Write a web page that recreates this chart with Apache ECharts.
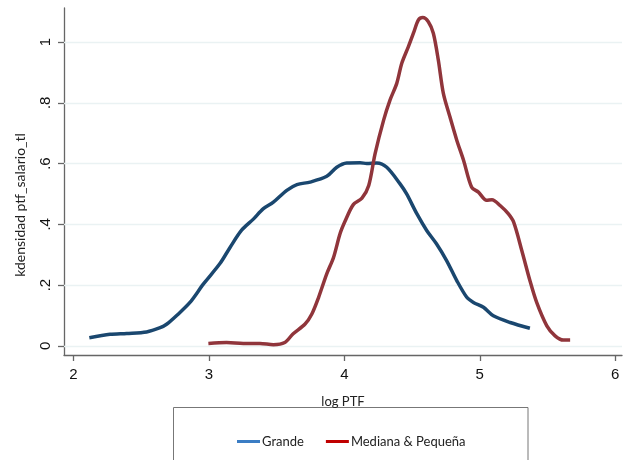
<!DOCTYPE html>
<html>
<head>
<meta charset="utf-8">
<script src="https://cdn.jsdelivr.net/npm/echarts@6/dist/echarts.min.js"></script>
<style>
html,body{margin:0;padding:0;background:#fff;}
#chart{width:623px;height:460px;}
</style>
</head>
<body>
<div id="chart"></div>
<script>
const xTicks = [2, 3, 4, 5, 6];
const yTicks = [0, 0.2, 0.4, 0.6, 0.8, 1];
const yTickLabels = ['0', '.2', '.4', '.6', '.8', '1'];
const seriesNames = ['Grande', 'Mediana & Pequeña'];
const xTitle = 'log PTF';
const yTitle = 'kdensidad ptf_salario_tl';

const grandeX = [2.117, 2.27, 2.393, 2.54, 2.64, 2.69, 2.76, 2.86, 2.96, 3.08, 3.156, 3.24, 3.33, 3.40, 3.476, 3.575, 3.65, 3.747, 3.87, 3.944, 4.018, 4.116, 4.165, 4.24, 4.313, 4.41, 4.46, 4.535, 4.608, 4.68, 4.756, 4.83, 4.904, 4.953, 5.027, 5.10, 5.224, 5.37];
const grandeY = [0.027, 0.038, 0.041, 0.046, 0.060, 0.072, 0.099, 0.143, 0.204, 0.270, 0.324, 0.380, 0.418, 0.451, 0.473, 0.512, 0.531, 0.539, 0.558, 0.588, 0.602, 0.603, 0.600, 0.602, 0.588, 0.534, 0.500, 0.435, 0.380, 0.336, 0.280, 0.215, 0.160, 0.143, 0.127, 0.099, 0.077, 0.058];

const medianaX = [2.996, 3.13, 3.254, 3.377, 3.476, 3.56, 3.62, 3.71, 3.76, 3.81, 3.87, 3.92, 3.968, 4.005, 4.066, 4.13, 4.18, 4.227, 4.29, 4.337, 4.387, 4.424, 4.473, 4.51, 4.547, 4.579, 4.62, 4.657, 4.694, 4.731, 4.78, 4.83, 4.88, 4.94, 4.99, 5.05, 5.09, 5.15, 5.21, 5.25, 5.31, 5.37, 5.42, 5.495, 5.556, 5.617, 5.667];
const medianaY = [0.008, 0.011, 0.008, 0.008, 0.004, 0.011, 0.039, 0.072, 0.105, 0.160, 0.237, 0.291, 0.369, 0.410, 0.465, 0.486, 0.528, 0.633, 0.743, 0.809, 0.864, 0.930, 0.985, 1.029, 1.073, 1.081, 1.067, 1.029, 0.940, 0.831, 0.753, 0.677, 0.611, 0.522, 0.506, 0.479, 0.481, 0.462, 0.435, 0.407, 0.314, 0.215, 0.143, 0.066, 0.033, 0.019, 0.019];

const zip = (xs, ys) => xs.map((x, i) => [x, ys[i]]);

const chart = echarts.init(document.getElementById('chart'), null, {renderer: 'canvas'});
const axisColor = '#666666';
const gridColor = '#eaf2f3';

chart.setOption({
  animation: false,
  backgroundColor: '#ffffff',
  grid: {left: 64, right: 1, top: 8, bottom: 105, containLabel: false},
  xAxis: {
    type: 'value',
    min: 1.93,
    max: 6.05,
    name: xTitle,
    nameLocation: 'middle',
    nameGap: 40,
    nameTextStyle: {fontFamily: 'Lato', fontSize: 13, color: '#222'},
    axisLine: {show: true, onZero: false, lineStyle: {color: axisColor, width: 1.3}},
    axisTick: {show: true, customValues: xTicks, length: 6, lineStyle: {color: axisColor, width: 1.3}},
    axisLabel: {customValues: xTicks, fontFamily: 'Liberation Sans', fontSize: 15, color: '#111', margin: 12, formatter: v => String(v)},
    splitLine: {show: false}
  },
  yAxis: {
    type: 'value',
    min: -0.03,
    max: 1.112,
    axisLine: {show: true, onZero: false, lineStyle: {color: axisColor, width: 1.3}},
    axisTick: {show: true, customValues: yTicks, length: 6, lineStyle: {color: axisColor, width: 1.3}},
    axisLabel: {
      customValues: yTicks, rotate: 90, fontFamily: 'Liberation Sans', fontSize: 15, color: '#111', margin: 11,
      formatter: v => { const i = yTicks.findIndex(t => Math.abs(t - v) < 1e-6); return i >= 0 ? yTickLabels[i] : ''; }
    },
    splitLine: {show: false}
  },
  legend: {
    data: [
      {name: seriesNames[0], itemStyle: {color: '#3b7dc4'}},
      {name: seriesNames[1], itemStyle: {color: '#c00000'}}
    ],
    icon: 'rect',
    itemWidth: 23,
    itemHeight: 3,
    itemGap: 22,
    left: 232,
    top: 430,
    textStyle: {fontFamily: 'Lato', fontSize: 13, color: '#222', padding: [0, 0, 0, -3]}
  },
  graphic: [
    {type: 'rect', shape: {x: 173.5, y: 407.5, width: 354.5, height: 70}, style: {fill: 'none', stroke: '#777', lineWidth: 1}, z: 0, silent: true},
    {type: 'text', x: 20, y: 205, rotation: Math.PI / 2, silent: true,
     style: {text: yTitle, font: '14px Lato', fill: '#222', align: 'center', verticalAlign: 'middle'}}
  ],
  series: [
    {
      name: '__grid', type: 'line', data: [], silent: true, z: 1,
      markLine: {
        z: 1,
        symbol: 'none', silent: true, label: {show: false},
        lineStyle: {color: gridColor, width: 1.3, type: 'solid'},
        data: yTicks.map(t => ({yAxis: t}))
      }
    },
    {
      name: seriesNames[0], type: 'line', data: zip(grandeX, grandeY), smooth: 0.3, showSymbol: false, z: 6,
      lineStyle: {color: '#1a476f', width: 3.5}, itemStyle: {color: '#1a476f'}
    },
    {
      name: seriesNames[1], type: 'line', data: zip(medianaX, medianaY), smooth: 0.3, showSymbol: false, z: 6,
      lineStyle: {color: '#90353b', width: 3.5}, itemStyle: {color: '#90353b'}
    }
  ]
});
</script>
</body>
</html>
